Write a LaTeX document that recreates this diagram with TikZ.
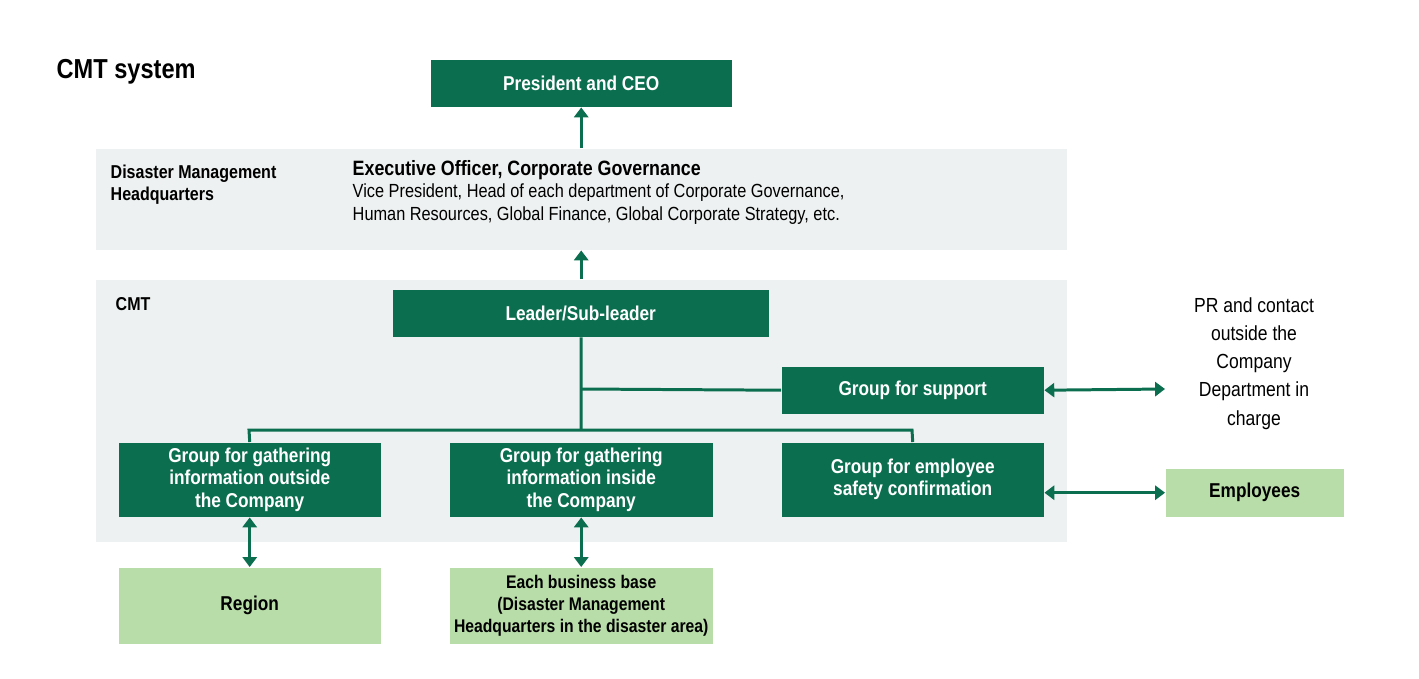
\documentclass[tikz,border=0pt]{standalone}
\usepackage{fontspec}
\setmainfont{Liberation Sans}[FakeStretch=0.86]
\usetikzlibrary{arrows.meta}
\definecolor{dg}{HTML}{0B6E4F}
\definecolor{lg}{HTML}{B8DDA8}
\definecolor{pg}{HTML}{EEF1F1}
\begin{document}
\begin{tikzpicture}[x=0.01cm,y=-0.01cm,
  dbox/.style={fill=dg,text=white,font=\bfseries\fontsize{5.7}{6.3}\selectfont,align=center,inner sep=0,anchor=north west},
  lbox/.style={fill=lg,text=black,font=\bfseries\fontsize{5.7}{6.3}\selectfont,align=center,inner sep=0,anchor=north west},
  conn/.style={dg,line width=0.85pt},
  arr/.style={conn,-{Triangle[length=2.8pt,width=4pt]}},
  darr/.style={conn,{Triangle[length=2.8pt,width=4pt]}-{Triangle[length=2.8pt,width=4pt]}}]
\useasboundingbox (0,0) rectangle (1419,678);
\fill[white] (0,0) rectangle (1419,678);
\node[anchor=west,font=\bfseries\fontsize{7.8}{9}\selectfont,inner sep=0] (title) at (56,72) {CMT system};
\node[fill=pg,minimum width=971*0.01cm,minimum height=101*0.01cm,anchor=north west,inner sep=0] (dmh) at (95,148) {};
\node[fill=pg,minimum width=971*0.01cm,minimum height=262*0.01cm,anchor=north west,inner sep=0] (cmtp) at (95,279) {};
\node[anchor=north west,align=left,font=\bfseries\fontsize{5.3}{6.3}\selectfont,inner sep=0] (dmhl) at (110,164) {Disaster Management\\Headquarters};
\node[anchor=north west,align=left,inner sep=0,font=\fontsize{5.4}{6.3}\selectfont] (exec) at (352,160) {{\bfseries\fontsize{5.9}{6.3}\selectfont Executive Officer, Corporate Governance}\\Vice President, Head of each department of Corporate Governance,\\Human Resources, Global Finance, Global Corporate Strategy, etc.};
\node[anchor=north west,font=\bfseries\fontsize{5.3}{6}\selectfont,inner sep=0] (cmtl) at (115,297) {CMT};
\node[dbox,minimum width=301*0.01cm,minimum height=47*0.01cm] (ceo) at (430,59) {President and CEO};
\node[dbox,minimum width=376*0.01cm,minimum height=47*0.01cm] (lead) at (392,289) {Leader/Sub-leader};
\node[dbox,minimum width=262*0.01cm,minimum height=47*0.01cm] (sup) at (781,366) {Group for support};
\node[dbox,minimum width=262*0.01cm,minimum height=74*0.01cm] (g1) at (118,442) {Group for gathering\\information outside\\the Company};
\node[dbox,minimum width=263*0.01cm,minimum height=74*0.01cm] (g2) at (449,442) {Group for gathering\\information inside\\the Company};
\node[dbox,minimum width=262*0.01cm,minimum height=74*0.01cm] (g3) at (781,442) {Group for employee\\safety confirmation};
\node[lbox,minimum width=262*0.01cm,minimum height=76*0.01cm] (reg) at (118,567) {Region};
\node[lbox,minimum width=263*0.01cm,minimum height=76*0.01cm,font=\bfseries\fontsize{5.2}{6.3}\selectfont] (base) at (449,567) {Each business base\\(Disaster Management\\Headquarters in the disaster area)};
\node[lbox,minimum width=178*0.01cm,minimum height=48*0.01cm] (emp) at (1165,468) {Employees};
\node[align=center,font=\fontsize{5.8}{8}\selectfont,anchor=north,inner sep=0] (pr) at (1254,297) {PR and contact\\outside the\\Company\\Department in\\charge};
\coordinate (pra) at (1165,389);
\draw[arr] (dmh.north -| ceo.south) -- (ceo.south);
\draw[arr] (cmtp.north -| ceo.south) -- (dmh.south -| ceo.south);
\coordinate (j) at (581,430);
\draw[conn] (lead.south -| ceo.south) -- (j);
\draw[conn] (581,389) -- (sup.west);
\draw[conn] (g1.north) -- (249,430) -- (912,430) -- (g3.north);
\draw[darr] (g1.south) -- (reg.north);
\draw[darr] (g2.south -| ceo.south) -- (base.north -| ceo.south);
\draw[darr] (sup.east) -- (pra);
\draw[darr] (g3.east |- emp.west) -- (emp.west);
\end{tikzpicture}
\end{document}
